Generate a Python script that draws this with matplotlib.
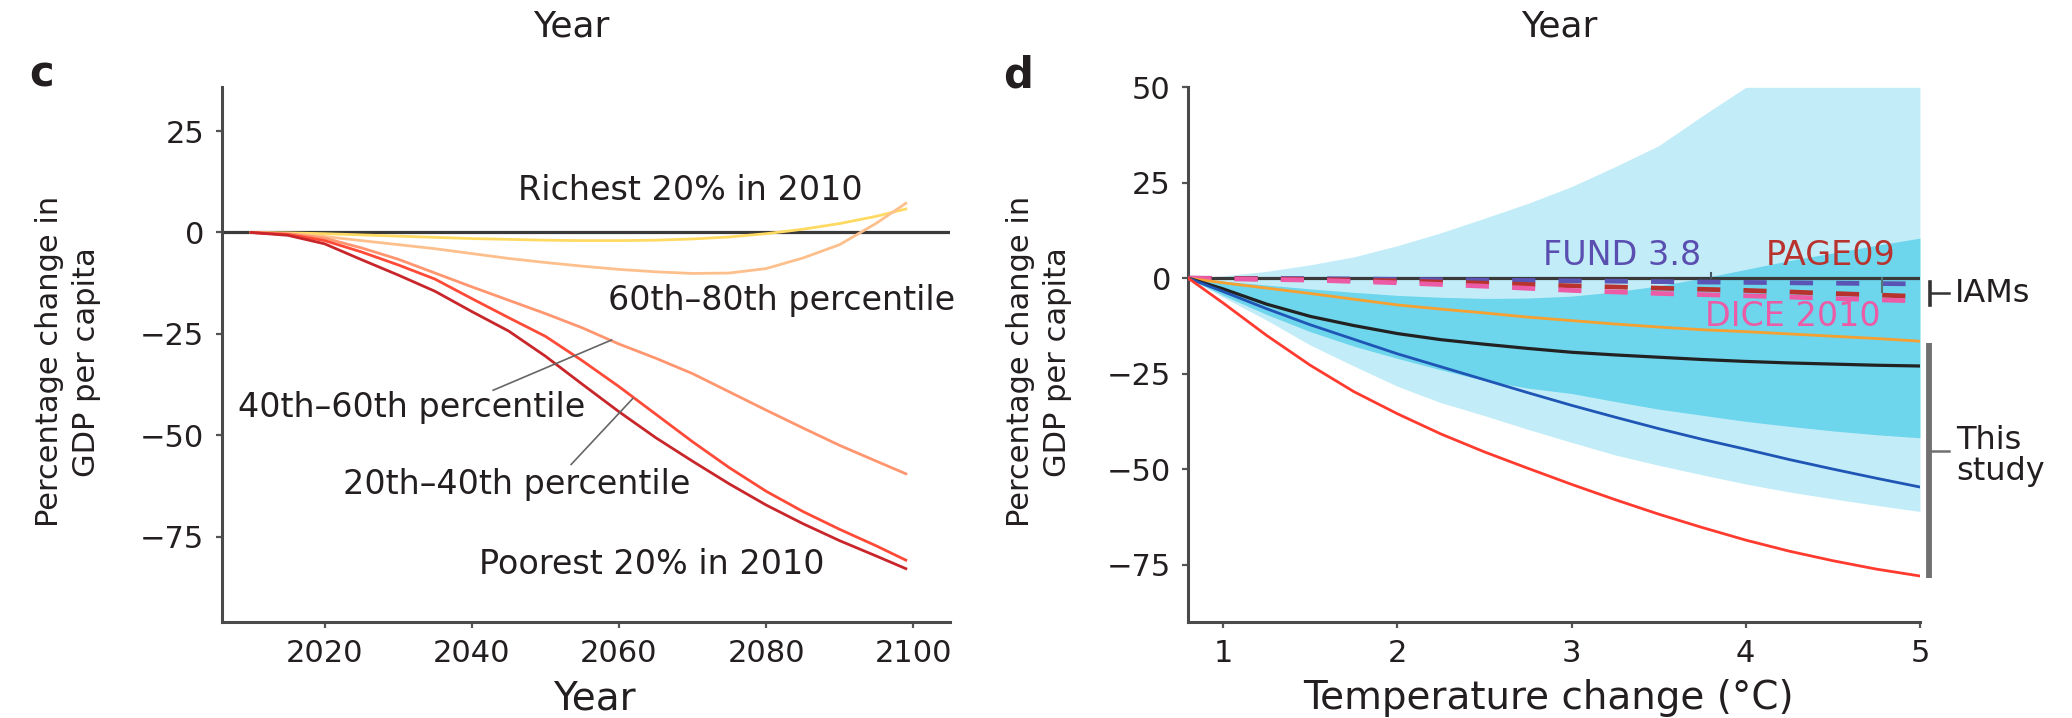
import matplotlib
matplotlib.use("Agg")
import matplotlib.pyplot as plt

# ---- panel c: GDP loss by income quintile over time ----
years = [2010, 2015, 2020, 2025, 2030, 2035, 2040, 2045, 2050, 2055,
         2060, 2065, 2070, 2075, 2080, 2085, 2090, 2095, 2099]
gdp_richest = [0, -0.1, -0.3, -0.6, -0.9, -1.2, -1.5, -1.7, -1.9, -2.0,
               -2.0, -1.9, -1.6, -1.1, -0.3, 0.8, 2.2, 4.0, 5.8]
gdp_p60_80 = [0, -0.3, -1.0, -2.0, -3.0, -4.0, -5.2, -6.4, -7.4, -8.3,
              -9.1, -9.7, -10.1, -10.0, -8.9, -6.3, -3.0, 2.3, 7.2]
gdp_p40_60 = [0, -0.3, -1.4, -3.8, -6.6, -10.0, -13.4, -16.7, -20.0, -23.5,
              -27.5, -31.0, -34.8, -39.3, -43.8, -48.2, -52.5, -56.4, -59.5]
gdp_p20_40 = [0, -0.5, -2.0, -4.8, -8.0, -11.5, -16.3, -21.0, -25.6, -31.6,
              -38.0, -44.8, -51.6, -58.0, -63.8, -68.8, -73.2, -77.3, -80.8]
gdp_poorest = [0, -0.7, -2.8, -6.7, -10.5, -14.5, -19.5, -24.3, -30.5, -37.4,
               -44.2, -50.6, -56.4, -62.0, -67.2, -71.8, -76.0, -79.8, -82.9]

# ---- panel d: GDP loss vs temperature change ----
temps = [0.8, 1.0, 1.25, 1.5, 1.75, 2.0, 2.25, 2.5, 2.75, 3.0,
         3.25, 3.5, 3.75, 4.0, 4.25, 4.5, 4.75, 5.0]
band_light_hi = [0, 0.6, 1.8, 3.5, 5.6, 8.5, 11.9, 15.7, 19.6, 24.0,
                 29.2, 34.7, 42.5, 50, 50, 50, 50, 50]
band_light_lo = [0, -5.0, -11.0, -17.5, -23.0, -28.3, -32.6, -36.0, -39.6, -43.0,
                 -46.3, -49.0, -51.5, -53.9, -56.0, -57.8, -59.5, -61.1]
band_dark_hi = [0, -0.8, -1.8, -2.8, -3.7, -4.5, -5.0, -5.3, -5.2, -4.7,
                -3.6, -2.0, 0.0, 2.3, 4.6, 6.6, 8.6, 10.5]
band_dark_lo = [0, -4.5, -9.5, -14.0, -17.8, -21.0, -24.0, -26.8, -28.8, -30.2,
                -32.3, -34.3, -35.9, -37.5, -38.8, -40.0, -41.0, -41.8]
loss_red = [0, -6.5, -15.0, -22.8, -29.7, -35.5, -40.8, -45.5, -49.8, -54.0,
            -58.0, -61.8, -65.3, -68.6, -71.5, -74.0, -76.2, -78.0]
loss_blue = [0, -3.5, -8.0, -12.2, -16.0, -19.8, -23.2, -26.6, -30.0, -33.3,
             -36.4, -39.4, -42.2, -44.8, -47.5, -50.0, -52.4, -54.7]
loss_black = [0, -2.8, -6.8, -10.0, -12.4, -14.5, -16.1, -17.3, -18.4, -19.4,
              -20.1, -20.7, -21.3, -21.8, -22.2, -22.5, -22.8, -23.0]
loss_orange = [0, -1.2, -2.6, -4.0, -5.5, -7.0, -8.1, -9.1, -10.2, -11.1,
               -12.0, -12.8, -13.5, -14.0, -14.6, -15.2, -15.8, -16.5]

iam_temps = [0.8, 1.5, 2.0, 2.5, 3.0, 3.5, 4.0, 4.5, 5.0]
iam_fund = [0, -0.1, -0.3, -0.5, -0.7, -0.9, -1.1, -1.3, -1.5]
iam_page = [0, -0.3, -0.7, -1.3, -2.0, -2.6, -3.2, -4.0, -4.8]
iam_dice = [0, -0.5, -1.2, -2.1, -3.2, -4.0, -4.6, -5.3, -6.0]

TEXT = "#231F20"
SPINE = "#4a4a4a"

plt.rcParams["font.family"] = ["DejaVu Sans"]
plt.rcParams["text.color"] = TEXT

fig = plt.figure(figsize=(20.72, 7.18), dpi=100)
ax_c = fig.add_axes([0.107, 0.134, 0.3515, 0.7444])
ax_d = fig.add_axes([0.5735, 0.134, 0.3531, 0.7444])


def style_axes(ax):
    for side in ("top", "right"):
        ax.spines[side].set_visible(False)
    for side in ("left", "bottom"):
        ax.spines[side].set_color(SPINE)
        ax.spines[side].set_linewidth(2.2)
    ax.tick_params(direction="out", length=4.5, width=1.6, color="#555555",
                   labelsize=22, pad=8, labelcolor=TEXT)


# panel c
style_axes(ax_c)
ax_c.axhline(0, color="#3a3a3a", lw=2.3, zorder=1)
ax_c.plot(years, gdp_richest, color="#FFDA63", lw=2.0, zorder=3)
ax_c.plot(years, gdp_p60_80, color="#FDC08C", lw=2.0, zorder=3)
ax_c.plot(years, gdp_p40_60, color="#FF9670", lw=2.0, zorder=3)
ax_c.plot(years, gdp_p20_40, color="#FF4A38", lw=2.0, zorder=3)
ax_c.plot(years, gdp_poorest, color="#C8262A", lw=2.0, zorder=3)
ax_c.set_xlim(2006, 2105)
ax_c.set_ylim(-96, 35.8)
ax_c.set_xticks([2020, 2040, 2060, 2080, 2100])
ax_c.set_yticks([-75, -50, -25, 0, 25])

ann = dict(fontsize=24, ha="center", va="baseline", color=TEXT)
ax_c.text(2069.7, 8.0, "Richest 20% in 2010", **ann)
ax_c.text(2082.1, -19.1, "60th\u201380th percentile", **ann)
ax_c.text(2031.8, -45.5, "40th\u201360th percentile", **ann)
ax_c.text(2046.1, -64.4, "20th\u201340th percentile", **ann)
ax_c.text(2064.5, -84.1, "Poorest 20% in 2010", **ann)
ax_c.plot([2042.9, 2059.0], [-38.9, -26.5], color="#666666", lw=1.2, zorder=4)
ax_c.plot([2053.5, 2061.9], [-57.2, -40.9], color="#666666", lw=1.2, zorder=4)

# panel d
style_axes(ax_d)
ax_d.fill_between(temps, band_light_lo, band_light_hi, color="#C2EDF8", lw=0, zorder=1)
ax_d.fill_between(temps, band_dark_lo, band_dark_hi, color="#6DD5EC", lw=0, zorder=2)
ax_d.plot([0.8, 5.0], [0, 0], color="#3a3a3a", lw=2.3, zorder=3)
for vals, col in ((iam_fund, "#5A55B5"), (iam_page, "#B8322E"), (iam_dice, "#EC5BA6")):
    ax_d.plot(iam_temps, vals, color=col, lw=3.4, dashes=(4.9, 4.9), zorder=4)
ax_d.plot(temps, loss_orange, color="#F5A030", lw=2.0, zorder=5)
ax_d.plot(temps, loss_black, color="#222222", lw=2.3, zorder=5)
ax_d.plot(temps, loss_blue, color="#1F55B5", lw=2.0, zorder=5)
ax_d.plot(temps, loss_red, color="#FF3B2F", lw=2.0, zorder=5)
ax_d.set_xlim(0.8, 5.0)
ax_d.set_ylim(-90, 50)
ax_d.set_xticks([1, 2, 3, 4, 5])
ax_d.set_yticks([-75, -50, -25, 0, 25, 50])

# pointer ticks for the IAM labels
ax_d.plot([3.8, 3.8], [0, 1.4], color="#445566", lw=1.5, zorder=4)
ax_d.plot([4.78, 4.78], [0, -3.6], color="#557777", lw=1.5, zorder=4)

lab = dict(fontsize=24, ha="center", va="baseline")
ax_d.text(3.29, 3.5, "FUND 3.8", color="#5A4FB0", zorder=6, **lab)
ax_d.text(4.49, 3.5, "PAGE09", color="#B8322E", zorder=6, **lab)
ax_d.text(4.27, -12.4, "DICE 2010", color="#EC5BA6", zorder=6, **lab)

# brackets on the right
ax_d.plot([5.059, 5.059], [-0.9, -7.0], color="#333333", lw=2.6, clip_on=False)
ax_d.plot([5.059, 5.165], [-4.0, -4.0], color="#333333", lw=1.8, clip_on=False)
ax_d.text(5.2, -4.0, "IAMs", fontsize=23, ha="left", va="center", color=TEXT)
ax_d.plot([5.050, 5.050], [-17.0, -78.6], color="#707070", lw=4.2, clip_on=False,
          solid_capstyle="butt")
ax_d.plot([5.050, 5.165], [-45.3, -45.3], color="#707070", lw=1.8, clip_on=False)
ax_d.text(5.21, -46.5, "This\nstudy", fontsize=23, ha="left", va="center",
          color=TEXT, linespacing=1.0)

# labels and titles
ylab = "Percentage change in\nGDP per capita"
fig.text(0.033, 0.496, ylab, rotation=90, fontsize=22, ha="center", va="center",
         multialignment="center", linespacing=1.35)
fig.text(0.5015, 0.496, ylab, rotation=90, fontsize=22, ha="center", va="center",
         multialignment="center", linespacing=1.35)
fig.text(0.287, 0.0125, "Year", fontsize=28, ha="center", va="baseline")
fig.text(0.7475, 0.0125, "Temperature change (\u00b0C)", fontsize=28, ha="center",
         va="baseline")
fig.text(0.2756, 0.9489, "Year", fontsize=26, ha="center", va="baseline")
fig.text(0.7525, 0.9489, "Year", fontsize=26, ha="center", va="baseline")
fig.text(0.014, 0.879, "c", fontsize=30, fontweight="bold", ha="left", va="baseline")
fig.text(0.4843, 0.8784, "d", fontsize=30, fontweight="bold", ha="left", va="baseline")

fig.savefig("out.png", dpi=100)
